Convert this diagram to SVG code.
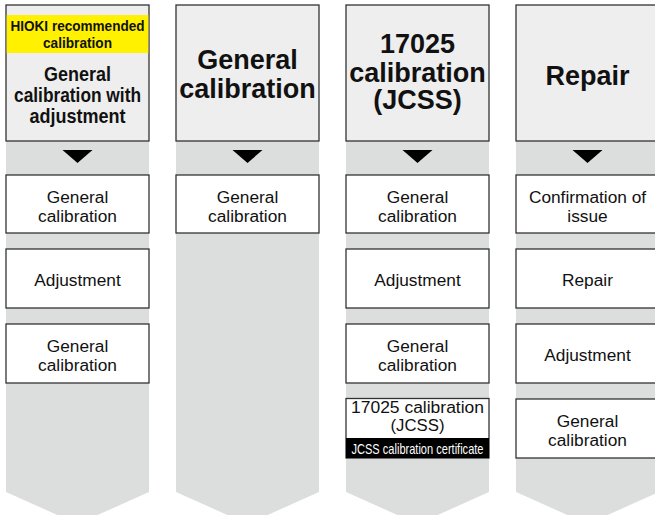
<svg xmlns="http://www.w3.org/2000/svg" width="655" height="515" viewBox="0 0 655 515">
<style>
.col{fill:#dcdddd;stroke:none}
.tri{fill:#000}
.hdr{fill:#eeeeee;stroke:#333;stroke-width:1.3}
.box{fill:#fff;stroke:#333;stroke-width:1.3}
text{font-family:"Liberation Sans",Arial,sans-serif;fill:#111;text-anchor:middle}
.h{font-weight:bold;font-size:27px}
.h1{font-weight:bold;font-size:21px}
.rec{font-weight:bold;font-size:14px}
.t{font-size:17.3px}
.t2{font-size:16px}
.cert{font-size:14.5px;fill:#fff}
</style>
<rect width="655" height="515" fill="#fff"/>
<g id="connectors">
<polygon class="col" points="6,5 149,5 149,492 77.5,524 6,492"/>
<polygon class="col" points="176,5 319,5 319,492 247.5,524 176,492"/>
<polygon class="col" points="346,5 489,5 489,492 417.5,524 346,492"/>
<polygon class="col" points="516,5 659,5 659,492 587.5,524 516,492"/>
<polygon class="tri" points="62.5,150 92.5,150 77.5,163"/>
<polygon class="tri" points="232.5,150 262.5,150 247.5,163"/>
<polygon class="tri" points="402.5,150 432.5,150 417.5,163"/>
<polygon class="tri" points="572.5,150 602.5,150 587.5,163"/>
</g>
<g id="h1">
<rect class="hdr" x="6" y="5" width="143" height="136"/>
<rect x="6.7" y="15" width="141.6" height="38" fill="#fff100"/>
<text class="rec" x="77.5" y="31" textLength="134" lengthAdjust="spacingAndGlyphs">HIOKI recommended</text>
<text class="rec" x="77.5" y="48" textLength="69" lengthAdjust="spacingAndGlyphs">calibration</text>
<text class="h1" x="77.5" y="81" textLength="67" lengthAdjust="spacingAndGlyphs">General</text>
<text class="h1" x="77.5" y="102" textLength="127" lengthAdjust="spacingAndGlyphs">calibration with</text>
<text class="h1" x="77.5" y="123" textLength="96" lengthAdjust="spacingAndGlyphs">adjustment</text>
</g>
<g id="h2">
<rect class="hdr" x="176" y="5" width="143" height="136"/>
<text class="h" x="247.5" y="69">General</text>
<text class="h" x="247.5" y="98">calibration</text>
</g>
<g id="h3">
<rect class="hdr" x="346" y="5" width="143" height="136"/>
<text class="h" x="417.5" y="53">17025</text>
<text class="h" x="417.5" y="82">calibration</text>
<text class="h" x="417.5" y="109">(JCSS)</text>
</g>
<g id="h4">
<rect class="hdr" x="516" y="5" width="143" height="136"/>
<text class="h" x="587.5" y="85">Repair</text>
</g>
<g id="c1b1">
<rect class="box" x="6" y="175" width="143" height="58"/>
<text class="t" x="77.5" y="203">General</text>
<text class="t" x="77.5" y="222">calibration</text>
</g>
<g id="c1b2">
<rect class="box" x="6" y="249" width="143" height="59"/>
<text class="t" x="77.5" y="286">Adjustment</text>
</g>
<g id="c1b3">
<rect class="box" x="6" y="324" width="143" height="59"/>
<text class="t" x="77.5" y="352">General</text>
<text class="t" x="77.5" y="371">calibration</text>
</g>
<g id="c2b1">
<rect class="box" x="176" y="175" width="143" height="58"/>
<text class="t" x="247.5" y="203">General</text>
<text class="t" x="247.5" y="222">calibration</text>
</g>
<g id="c3b1">
<rect class="box" x="346" y="175" width="143" height="58"/>
<text class="t" x="417.5" y="203">General</text>
<text class="t" x="417.5" y="222">calibration</text>
</g>
<g id="c3b2">
<rect class="box" x="346" y="249" width="143" height="59"/>
<text class="t" x="417.5" y="286">Adjustment</text>
</g>
<g id="c3b3">
<rect class="box" x="346" y="324" width="143" height="59"/>
<text class="t" x="417.5" y="352">General</text>
<text class="t" x="417.5" y="371">calibration</text>
</g>
<g id="c3b4">
<rect class="box" x="346" y="398.5" width="143" height="59.5"/>
<rect x="346" y="438" width="143" height="20" fill="#000"/>
<text class="t2" x="417.5" y="413" textLength="133" lengthAdjust="spacingAndGlyphs">17025 calibration</text>
<text class="t2" x="417.5" y="431" textLength="54" lengthAdjust="spacingAndGlyphs">(JCSS)</text>
<text class="cert" x="417.5" y="454" textLength="132" lengthAdjust="spacingAndGlyphs">JCSS calibration certificate</text>
</g>
<g id="c4b1">
<rect class="box" x="516" y="175" width="143" height="58"/>
<text class="t" x="587.5" y="203">Confirmation of</text>
<text class="t" x="587.5" y="222">issue</text>
</g>
<g id="c4b2">
<rect class="box" x="516" y="249" width="143" height="59"/>
<text class="t" x="587.5" y="286">Repair</text>
</g>
<g id="c4b3">
<rect class="box" x="516" y="324" width="143" height="59"/>
<text class="t" x="587.5" y="361">Adjustment</text>
</g>
<g id="c4b4">
<rect class="box" x="516" y="399" width="143" height="59"/>
<text class="t" x="587.5" y="427">General</text>
<text class="t" x="587.5" y="446">calibration</text>
</g>
</svg>
